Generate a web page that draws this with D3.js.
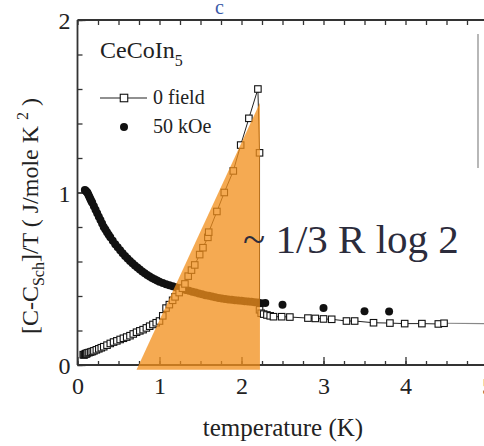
<!DOCTYPE html>
<html>
<head>
<meta charset="utf-8">
<script src="https://cdn.jsdelivr.net/npm/d3@7"></script>
<style>
  html, body { margin: 0; padding: 0; background: #fff; }
  svg { display: block; }
</style>
</head>
<body>
<svg id="chart" width="484" height="446"></svg>
<script>
// Temperature (K) and [C - C_Sch]/T (J/mole K^2), zero field
const zeroFieldT = [0.07, 0.08, 0.09, 0.10, 0.11, 0.12, 0.14, 0.16, 0.18, 0.20, 0.23, 0.26, 0.29, 0.32, 0.36, 0.40,
  0.44, 0.48, 0.52, 0.56, 0.60, 0.64, 0.68, 0.72, 0.76, 0.80, 0.84, 0.88, 0.92, 0.96, 1.00, 1.04, 1.08,
  1.12, 1.16, 1.19, 1.24, 1.28, 1.31, 1.35, 1.39, 1.43, 1.49, 1.53, 1.59, 1.60, 1.70, 1.79, 1.90, 1.99,
  2.09, 2.20, 2.22, 2.22, 2.24, 2.27, 2.31, 2.35, 2.39, 2.49, 2.59, 2.81, 2.90, 3.00, 3.10, 3.28, 3.38,
  3.61, 3.81, 3.99, 4.20, 4.40, 4.47];
const zeroFieldC = [0.060, 0.058, 0.062, 0.066, 0.064, 0.070, 0.072, 0.075, 0.078, 0.082, 0.088, 0.094, 0.100, 0.106, 0.115, 0.125,
  0.133, 0.140, 0.148, 0.155, 0.162, 0.170, 0.180, 0.190, 0.198, 0.205, 0.215, 0.225, 0.235, 0.245, 0.255, 0.285, 0.330,
  0.350, 0.375, 0.395, 0.420, 0.445, 0.470, 0.515, 0.550, 0.580, 0.640, 0.680, 0.740, 0.770, 0.890, 1.000, 1.125, 1.275,
  1.430, 1.600, 1.230, 0.320, 0.300, 0.295, 0.290, 0.285, 0.280, 0.280, 0.278, 0.272, 0.270, 0.267, 0.265, 0.255, 0.255,
  0.245, 0.243, 0.240, 0.240, 0.238, 0.242];
// the zero-field curve is continued past the last measured point without markers
const zeroFieldTailT = [4.47, 5.00];
const zeroFieldTailC = [0.242, 0.240];

// 50 kOe
const fieldT = [0.09, 0.10, 0.11, 0.12, 0.13, 0.14, 0.15, 0.16, 0.17, 0.18, 0.20, 0.22, 0.24, 0.26, 0.28, 0.30, 0.32, 0.34,
  0.36, 0.38, 0.40, 0.43, 0.46, 0.49, 0.52, 0.55, 0.58, 0.61, 0.64, 0.67, 0.70, 0.73, 0.76, 0.79, 0.82, 0.85,
  0.88, 0.91, 0.94, 0.97, 1.00, 1.04, 1.08, 1.12, 1.16, 1.20, 1.24, 1.28, 1.32, 1.36, 1.40, 1.44, 1.48,
  1.52, 1.56, 1.60, 1.64, 1.68, 1.72, 1.76, 1.80, 1.84, 1.88, 1.92, 1.96, 2.00, 2.04, 2.08, 2.12, 2.16,
  2.20, 2.24, 2.29, 2.50, 3.00, 3.50, 3.80];
const fieldC = [1.015, 1.010, 1.005, 1.000, 0.990, 0.980, 0.970, 0.960, 0.950, 0.940, 0.920, 0.900, 0.880, 0.860, 0.840, 0.820, 0.800, 0.785,
  0.770, 0.755, 0.740, 0.720, 0.700, 0.682, 0.665, 0.648, 0.632, 0.617, 0.603, 0.590, 0.577, 0.565, 0.553, 0.542, 0.532, 0.522,
  0.513, 0.505, 0.497, 0.490, 0.483, 0.475, 0.468, 0.462, 0.457, 0.451, 0.445, 0.440, 0.435, 0.430, 0.425, 0.420, 0.415,
  0.410, 0.405, 0.401, 0.397, 0.393, 0.389, 0.386, 0.383, 0.380, 0.378, 0.376, 0.374, 0.372, 0.370, 0.368, 0.366, 0.364,
  0.362, 0.358, 0.360, 0.350, 0.330, 0.312, 0.310];

// entropy triangle (~ 1/3 R log 2), corners in data units
const triangleT = [0.72, 2.225, 2.225];
const triangleC = [-0.028, 1.52, -0.028];

const xMajorTicks = [0, 1, 2, 3, 4, 5];
const yMajorTicks = [0, 1, 2];

const SERIF = '"Liberation Serif", "Times New Roman", serif';
const serif = sel => sel.style("font-family", SERIF);

const svg = d3.select("#chart");
const W = 484, H = 446;

const x = d3.scaleLinear().domain([0, 5]).range([77.5, 487.5]);
const y = d3.scaleLinear().domain([0, 2]).range([365, 20]);

const axisColor = "#333";

// bottom axis: minor ticks every 0.25 K, labelled majors
const xMinor = d3.range(0, 5.01, 0.25);
svg.append("g").attr("transform", `translate(0,${y(0)})`)
  .call(d3.axisBottom(x).tickValues(xMinor).tickSize(-4).tickFormat(""))
  .call(g => g.select(".domain").remove());
svg.append("g").attr("class", "xaxis").attr("transform", `translate(0,${y(0)})`)
  .call(d3.axisBottom(x).tickValues(xMajorTicks).tickSize(-8).tickPadding(12).tickFormat(d3.format("d")))
  .call(g => g.select(".domain").remove());

// top axis (ticks only)
svg.append("g").attr("transform", `translate(0,${y(2)})`)
  .call(d3.axisTop(x).tickValues(xMinor).tickSize(-5).tickFormat(""))
  .call(g => g.select(".domain").remove());

// left axis: minor ticks every 0.2
const yMinor = d3.range(0, 2.01, 0.2);
svg.append("g").attr("transform", `translate(${x(0)},0)`)
  .call(d3.axisLeft(y).tickValues(yMinor).tickSize(-5).tickFormat(""))
  .call(g => g.select(".domain").remove());
svg.append("g").attr("class", "yaxis").attr("transform", `translate(${x(0)},0)`)
  .call(d3.axisLeft(y).tickValues(yMajorTicks).tickSize(-8).tickPadding(7).tickFormat(d3.format("d")))
  .call(g => g.select(".domain").remove());

svg.selectAll(".tick line").attr("stroke", axisColor).attr("stroke-width", 1.3);
svg.selectAll(".xaxis text, .yaxis text")
  .call(serif).attr("font-size", 24).attr("fill", "#222");
svg.selectAll(".yaxis .tick text").attr("dy", "0.36em");

// frame lines
svg.append("line").attr("x1", x(0)).attr("x2", W).attr("y1", y(0)).attr("y2", y(0))
  .attr("stroke", axisColor).attr("stroke-width", 1.8);
svg.append("line").attr("x1", x(0)).attr("x2", W).attr("y1", y(2)).attr("y2", y(2))
  .attr("stroke", axisColor).attr("stroke-width", 1.8);
svg.append("line").attr("x1", x(0)).attr("x2", x(0)).attr("y1", y(0)).attr("y2", y(2))
  .attr("stroke", axisColor).attr("stroke-width", 1.8);
// partial frame at the right
svg.append("line").attr("x1", 478).attr("x2", 478).attr("y1", 34).attr("y2", 168)
  .attr("stroke", "#888").attr("stroke-width", 1.2);

// zero-field connecting line
const line = d3.line().x(d => x(d[0])).y(d => y(d[1]));
const zeroPts = zeroFieldT.map((t, i) => [t, zeroFieldC[i]]);
const tailPts = zeroFieldTailT.map((t, i) => [t, zeroFieldTailC[i]]);
svg.append("path").datum(zeroPts).attr("d", line)
  .attr("fill", "none").attr("stroke", "#222").attr("stroke-width", 1);
svg.append("path").datum(tailPts).attr("d", line)
  .attr("fill", "none").attr("stroke", "#888").attr("stroke-width", 1.2);

// 50 kOe dots
const fieldPts = fieldT.map((t, i) => [t, fieldC[i]]);
svg.append("g").selectAll("circle").data(fieldPts).join("circle")
  .attr("cx", d => x(d[0])).attr("cy", d => y(d[1])).attr("r", 4).attr("fill", "#111");

// zero-field open squares
const s = 6.5;
svg.append("g").selectAll("rect").data(zeroPts).join("rect")
  .attr("x", d => x(d[0]) - s / 2).attr("y", d => y(d[1]) - s / 2)
  .attr("width", s).attr("height", s)
  .attr("fill", "#fff").attr("stroke", "#111").attr("stroke-width", 1.1);

// translucent orange entropy triangle on top of the data
const triPts = triangleT.map((t, i) => [x(t), y(triangleC[i])]);
svg.append("polygon").attr("points", triPts.map(p => p.join(",")).join(" "))
  .attr("fill", "#f28f1c").attr("fill-opacity", 0.76);

// legend
const title = svg.append("text").call(serif).attr("x", 100).attr("y", 58).attr("font-size", 24).attr("fill", "#222");
title.append("tspan").text("CeCoIn");
title.append("tspan").attr("font-size", 16).attr("dy", 8).text("5");
svg.append("line").attr("x1", 100).attr("x2", 147).attr("y1", 98).attr("y2", 98)
  .attr("stroke", "#222").attr("stroke-width", 1.2);
svg.append("rect").attr("x", 124 - s / 2 - 0.5).attr("y", 98 - s / 2 - 0.5).attr("width", s + 1).attr("height", s + 1)
  .attr("fill", "#fff").attr("stroke", "#111").attr("stroke-width", 1.1);
svg.append("text").call(serif).attr("x", 153).attr("y", 104).attr("font-size", 20).attr("fill", "#222").text("0 field");
svg.append("circle").attr("cx", 124).attr("cy", 127).attr("r", 4).attr("fill", "#111");
svg.append("text").call(serif).attr("x", 153).attr("y", 133).attr("font-size", 20).attr("fill", "#222").text("50 kOe");

// annotation
svg.append("text").call(serif).attr("x", 243).attr("y", 253).attr("font-size", 41).attr("fill", "#2c2c3c")
  .text("~ 1/3 R log 2");

// panel letter
svg.append("text").call(serif).attr("x", 215).attr("y", 14).attr("font-size", 20).attr("fill", "#3b5aa8").text("c");

// axis titles
svg.append("text").call(serif).attr("x", 283).attr("y", 436).attr("text-anchor", "middle")
  .attr("font-size", 25).attr("fill", "#222").text("temperature (K)");

const yt = svg.append("text").call(serif).attr("transform", "translate(38,216) rotate(-90)")
  .attr("text-anchor", "middle").attr("font-size", 24).attr("fill", "#222");
yt.append("tspan").text("[C-C");
yt.append("tspan").attr("font-size", 16).attr("dy", 6).text("Sch");
yt.append("tspan").attr("dy", -6).text("]/T ( J/mole K ");
yt.append("tspan").attr("font-size", 16).attr("dy", -10).text("2");
yt.append("tspan").attr("dy", 10).text(" )");
</script>
</body>
</html>
